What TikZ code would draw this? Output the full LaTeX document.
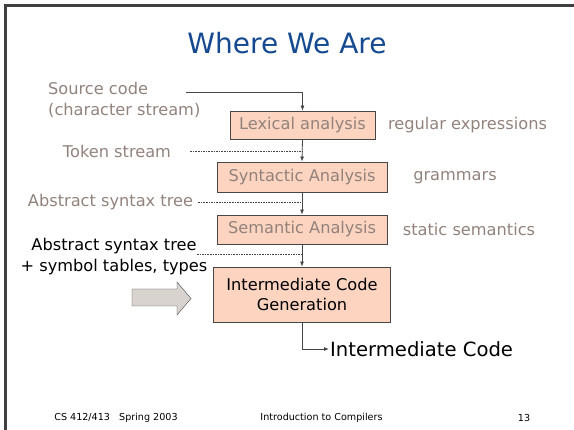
\documentclass[tikz,border=0pt]{standalone}
\usepackage{fontspec}
\setmainfont{DejaVu Sans}
\usepackage{tikz}
\usetikzlibrary{positioning,arrows.meta}
\definecolor{titleblue}{RGB}{22,74,144}
\definecolor{greytext}{RGB}{146,130,124}
\definecolor{stagefill}{RGB}{252,212,192}
\definecolor{edgegrey}{RGB}{70,70,70}
\definecolor{arrowfill}{RGB}{216,211,207}
\tikzset{
  >={Latex[length=5pt,width=4pt]},
  stage/.style  ={draw=edgegrey, thick, fill=stagefill, inner sep=0pt,
                  font=\fontsize{16.2}{20}\selectfont},
  lbl/.style    ={inner sep=1pt, font=\fontsize{16.2}{20.5}\selectfont},
  flow/.style   ={edgegrey, thick, ->},
  handoff/.style={edgegrey, semithick, dash pattern=on 1.6pt off 1pt},
  foot/.style   ={inner sep=0pt, font=\fontsize{9.6}{11}\selectfont},
}

\begin{document}
\begin{tikzpicture}[x=1pt,y=-1pt]
  \useasboundingbox (0,0) rectangle (574,430);
  % slide frame
  \draw[line width=3pt, black!75] (5.5,430) -- (5.5,5.5) -- (574,5.5);
  \node[text=titleblue, font=\fontsize{28}{32}\selectfont] (title) at (287,43) {Where We Are};

  % phases
  \node[stage, text=greytext, minimum width=145pt, minimum height=28pt] (lex) at (302.5,125) {Lexical analysis};
  \node[stage, text=greytext, minimum width=170pt, minimum height=30pt] (syn) at (302,177) {Syntactic Analysis};
  \node[stage, text=greytext, minimum width=170pt, minimum height=29pt] (sem) at (302,229.5) {Semantic Analysis};
  \node[stage, align=center, minimum width=177pt, minimum height=55pt] (gen) at (302,294.5)
    {Intermediate Code\\Generation};

  % what flows between them
  \node[lbl, text=greytext, align=left, anchor=west] (src) at (47,100) {Source code\\(character stream)};
  \node[lbl, text=greytext] (tok) at (117,151) {Token stream};
  \node[lbl, text=greytext] (ast) at (110.5,202) {Abstract syntax tree};
  \node[lbl, align=center] (astsym) at (114,256.5) {Abstract syntax tree\\+ symbol tables, types};
  \node[lbl, anchor=west, font=\fontsize{19.6}{22}\selectfont] (out) at (329,349) {Intermediate Code};

  % what each phase is built on
  \node[lbl, text=greytext] (regex) at (467.5,125) {regular expressions};
  \node[lbl, text=greytext] (gram) at (455,178) {grammars};
  \node[lbl, text=greytext] (stat) at (469,229) {static semantics};

  % arrows
  \coordinate (srcend) at (186,92);
  \coordinate (astsymend) at (197,254);
  \draw[flow] (srcend) -| (lex.north);
  \draw[flow] (lex.south) -- (syn.north);
  \draw[flow] (syn.south) -- (sem.north);
  \draw[flow] (sem.south) -- (gen.north);
  \draw[flow] (gen.south) |- (out.west);
  \draw[handoff] ([xshift=18pt]tok.east) -- (tok.east -| lex.south);
  \draw[handoff] ([xshift=4pt]ast.east) -- (ast.east -| syn.south);
  \draw[handoff] (astsymend) -- (astsymend -| sem.south);

  % we are here
  \draw[edgegrey, fill=arrowfill] (132,289) -- (177,289) -- (177,282) -- (191,298.5)
    -- (177,315) -- (177,306) -- (132,306) -- cycle;

  % footer
  \node[foot] (course) at (116,418) {CS 412/413\ \ \ Spring 2003};
  \node[foot] (lecture) at (321.5,418) {Introduction to Compilers};
  \node[foot] (page) at (524,418) {13};
\end{tikzpicture}
\end{document}
